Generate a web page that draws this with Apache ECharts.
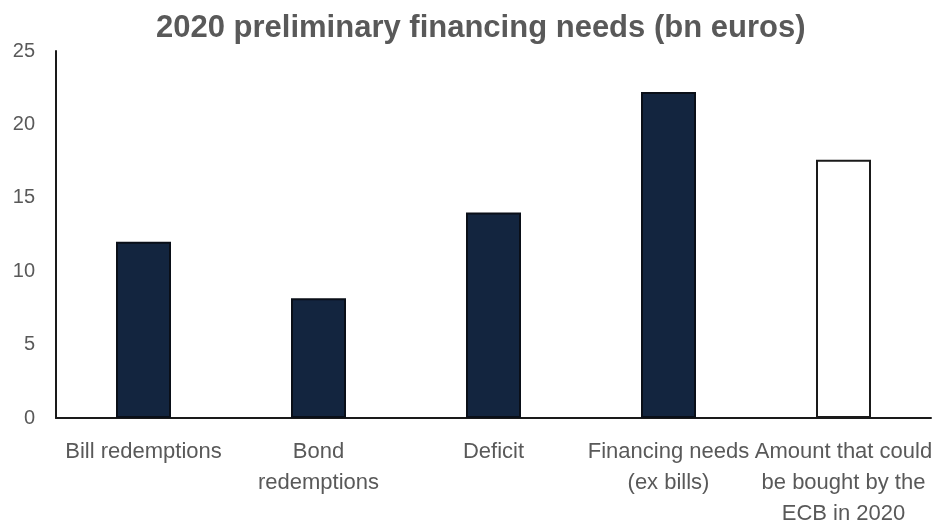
<!DOCTYPE html>
<html>
<head>
<meta charset="utf-8">
<script src="https://cdn.jsdelivr.net/npm/echarts@6/dist/echarts.min.js"></script>
<style>
  html, body { margin: 0; padding: 0; background: #ffffff; }
  #chart { width: 934px; height: 521px; }
</style>
</head>
<body>
<div id="chart"></div>
<script>
// Financing components for 2020, bn euros
const categories = [
  'Bill redemptions',
  'Bond\nredemptions',
  'Deficit',
  'Financing needs\n(ex bills)',
  'Amount that could\nbe bought by the\nECB in 2020'
];
const values = [12.0, 8.15, 14.0, 22.2, 17.6];
// The last bar is drawn hollow
const hollow = [false, false, false, false, true];
const yTicks = { min: 0, max: 25, interval: 5 };

const navy = '#13253f';
const textGray = '#595959';
const font = '"Liberation Sans", Arial, sans-serif';

const chart = echarts.init(document.getElementById('chart'), null, { renderer: 'canvas' });

chart.setOption({
  backgroundColor: '#ffffff',
  animation: false,
  title: {
    text: '2020 preliminary financing needs (bn euros)',
    left: 151,
    top: 8,
    textStyle: {
      fontFamily: font,
      fontSize: 31,
      fontWeight: 'bold',
      color: textGray
    }
  },
  grid: { left: 56, right: 3, top: 51, bottom: 103, outerBoundsMode: 'none', containLabel: false },
  xAxis: {
    type: 'category',
    data: categories,
    axisLine: { show: true, lineStyle: { color: '#1a1a1a', width: 2 } },
    axisTick: { show: false },
    axisLabel: {
      interval: 0,
      margin: 18,
      fontFamily: font,
      fontSize: 22,
      lineHeight: 31,
      color: textGray,
      align: 'center',
      verticalAlign: 'top'
    }
  },
  yAxis: {
    type: 'value',
    min: yTicks.min,
    max: yTicks.max,
    interval: yTicks.interval,
    axisLine: { show: true, lineStyle: { color: '#1a1a1a', width: 2 } },
    axisTick: { show: false },
    splitLine: { show: false },
    axisLabel: {
      margin: 21,
      fontFamily: font,
      fontSize: 20,
      color: textGray
    }
  },
  series: [{
    type: 'bar',
    barWidth: 55,
    data: values.map((v, i) => ({
      value: v,
      itemStyle: hollow[i]
        ? { color: '#ffffff', borderColor: '#1a1a1a', borderWidth: 2 }
        : { color: navy, borderColor: '#0a0f18', borderWidth: 2 }
    }))
  }]
});
</script>
</body>
</html>
